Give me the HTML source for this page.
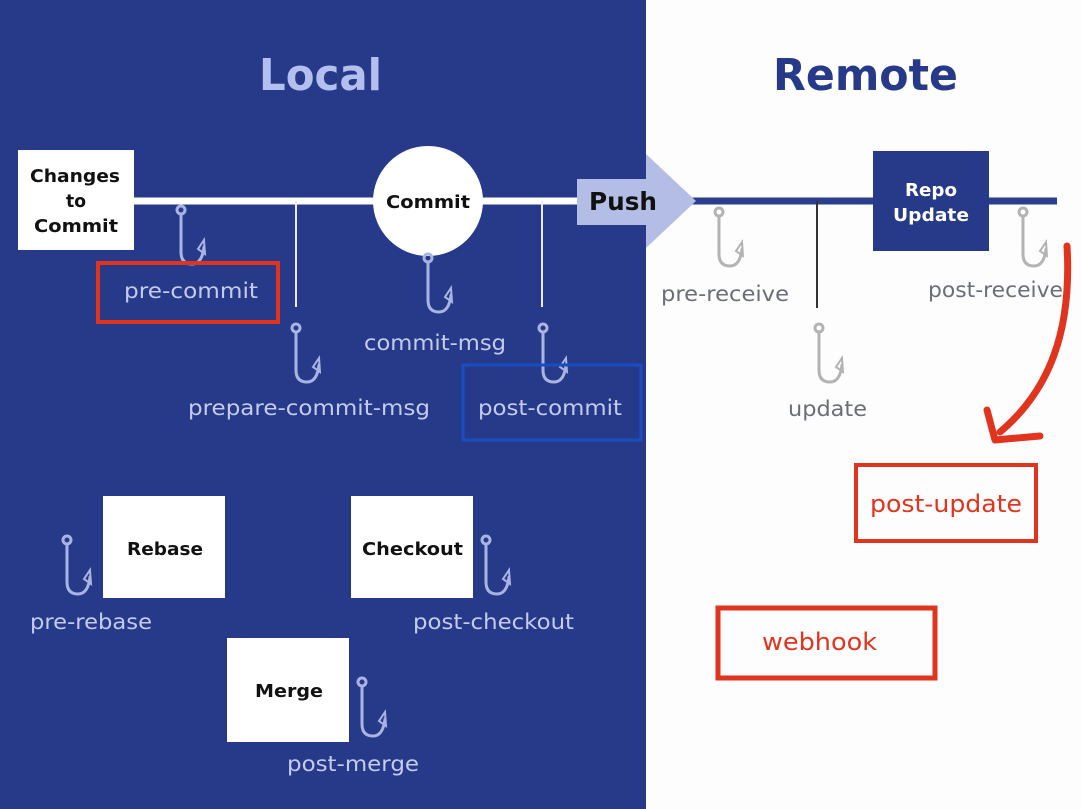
<!DOCTYPE html>
<html><head><meta charset="utf-8"><style>
html,body{margin:0;padding:0;background:#fff}
svg{display:block}
text{font-family:"DejaVu Sans","Liberation Sans",sans-serif}
.lb{fill:#c3cbef;font-size:21px}
.gr{fill:#6b6e78;font-size:21px}
.bx{font-weight:bold;font-size:18px;fill:#111}
</style></head><body>
<svg width="1082" height="809" viewBox="0 0 1082 809" xmlns="http://www.w3.org/2000/svg">
<defs>
<g id="hk" fill="none" stroke-width="3" stroke-linecap="round">
<circle cx="0" cy="0" r="4"/>
<path d="M0,4 L0,42 Q0,54 11,54 Q21,54 23,37"/>
<path d="M23,30 L24,44 L17,39 Z" stroke-width="2"/>
</g>
</defs>
<rect x="0" y="0" width="646" height="809" fill="#263a89"/>
<rect x="646" y="0" width="436" height="809" fill="#fdfdfd"/>
<text x="259" y="90" textLength="123" lengthAdjust="spacingAndGlyphs" font-size="44" font-weight="bold" fill="#b3bfee">Local</text>
<text x="773" y="90" textLength="185" lengthAdjust="spacingAndGlyphs" font-size="44" font-weight="bold" fill="#263a89">Remote</text>

<line x1="134" y1="201" x2="580" y2="201" stroke="#fff" stroke-width="7"/>
<line x1="690" y1="201" x2="1057" y2="201" stroke="#2a3f8c" stroke-width="7"/>
<line x1="296" y1="201" x2="296" y2="307" stroke="#e8ebf8" stroke-width="2"/>
<line x1="542" y1="201" x2="542" y2="307" stroke="#e8ebf8" stroke-width="2"/>
<line x1="817" y1="201" x2="817" y2="308" stroke="#333" stroke-width="2"/>

<rect x="18" y="150" width="116" height="100" fill="#fff"/>
<text class="bx" x="30" y="182" textLength="90" lengthAdjust="spacingAndGlyphs">Changes</text>
<text class="bx" x="66" y="207" textLength="20" lengthAdjust="spacingAndGlyphs">to</text>
<text class="bx" x="34" y="232" textLength="84" lengthAdjust="spacingAndGlyphs">Commit</text>
<circle cx="428" cy="201" r="55" fill="#fff"/>
<text class="bx" x="386" y="208" textLength="84" lengthAdjust="spacingAndGlyphs">Commit</text>

<rect x="577" y="179" width="70" height="46" fill="#b4bde6"/>
<polygon points="646,154 696,201 646,248" fill="#b4bde6"/>
<text x="589" y="210" textLength="68" lengthAdjust="spacingAndGlyphs" font-size="25" font-weight="bold" fill="#111">Push</text>

<rect x="873" y="151" width="116" height="100" fill="#263a89"/>
<text class="bx" x="905" y="196" textLength="52" lengthAdjust="spacingAndGlyphs" style="fill:#fff">Repo</text>
<text class="bx" x="893" y="221" textLength="76" lengthAdjust="spacingAndGlyphs" style="fill:#fff">Update</text>

<rect x="103" y="496" width="122" height="102" fill="#fff"/>
<text class="bx" x="127" y="555" textLength="76" lengthAdjust="spacingAndGlyphs">Rebase</text>
<rect x="351" y="496" width="122" height="102" fill="#fff"/>
<text class="bx" x="362" y="555" textLength="101" lengthAdjust="spacingAndGlyphs">Checkout</text>
<rect x="227" y="638" width="122" height="104" fill="#fff"/>
<text class="bx" x="255" y="697" textLength="68" lengthAdjust="spacingAndGlyphs">Merge</text>

<g stroke="#a9b4e2">
<use href="#hk" x="181" y="210"/>
<use href="#hk" x="296" y="328"/>
<use href="#hk" x="428" y="258"/>
<use href="#hk" x="543" y="328"/>
<use href="#hk" x="67" y="540"/>
<use href="#hk" x="486" y="540"/>
<use href="#hk" x="362" y="682"/>
</g>
<g stroke="#b3b3b3">
<use href="#hk" x="719" y="212"/>
<use href="#hk" x="819" y="328"/>
<use href="#hk" x="1023" y="212"/>
</g>

<text class="lb" x="124" y="298" textLength="134" lengthAdjust="spacingAndGlyphs">pre-commit</text>
<text class="lb" x="364" y="350" textLength="142" lengthAdjust="spacingAndGlyphs">commit-msg</text>
<text class="lb" x="188" y="415" textLength="242" lengthAdjust="spacingAndGlyphs">prepare-commit-msg</text>
<text class="lb" x="478" y="415" textLength="144" lengthAdjust="spacingAndGlyphs">post-commit</text>
<text class="lb" x="30" y="629" textLength="122" lengthAdjust="spacingAndGlyphs">pre-rebase</text>
<text class="lb" x="413" y="629" textLength="161" lengthAdjust="spacingAndGlyphs">post-checkout</text>
<text class="lb" x="287" y="771" textLength="132" lengthAdjust="spacingAndGlyphs">post-merge</text>
<text class="gr" x="661" y="301" textLength="128" lengthAdjust="spacingAndGlyphs">pre-receive</text>
<text class="gr" x="788" y="416" textLength="79" lengthAdjust="spacingAndGlyphs">update</text>
<text class="gr" x="928" y="297" textLength="135" lengthAdjust="spacingAndGlyphs">post-receive</text>

<rect x="98" y="263" width="180" height="59" fill="none" stroke="#e0341e" stroke-width="4"/>
<rect x="463" y="365" width="178" height="75" fill="none" stroke="#1b4cc0" stroke-width="3"/>
<rect x="856" y="465" width="180" height="76" fill="none" stroke="#e0341e" stroke-width="4"/>
<text x="870" y="512" textLength="152" lengthAdjust="spacingAndGlyphs" font-size="24" fill="#e0341e">post-update</text>
<rect x="718" y="608" width="217" height="70" fill="none" stroke="#e0341e" stroke-width="5"/>
<text x="762" y="650" textLength="115" lengthAdjust="spacingAndGlyphs" font-size="24" fill="#e0341e">webhook</text>

<path d="M1067,246 C1072,330 1050,390 1000,432" fill="none" stroke="#e0341e" stroke-width="7" stroke-linecap="round"/>
<path d="M987,410 L995,440 L1040,436" fill="none" stroke="#e0341e" stroke-width="7" stroke-linecap="round" stroke-linejoin="round"/>
</svg>
</body></html>
